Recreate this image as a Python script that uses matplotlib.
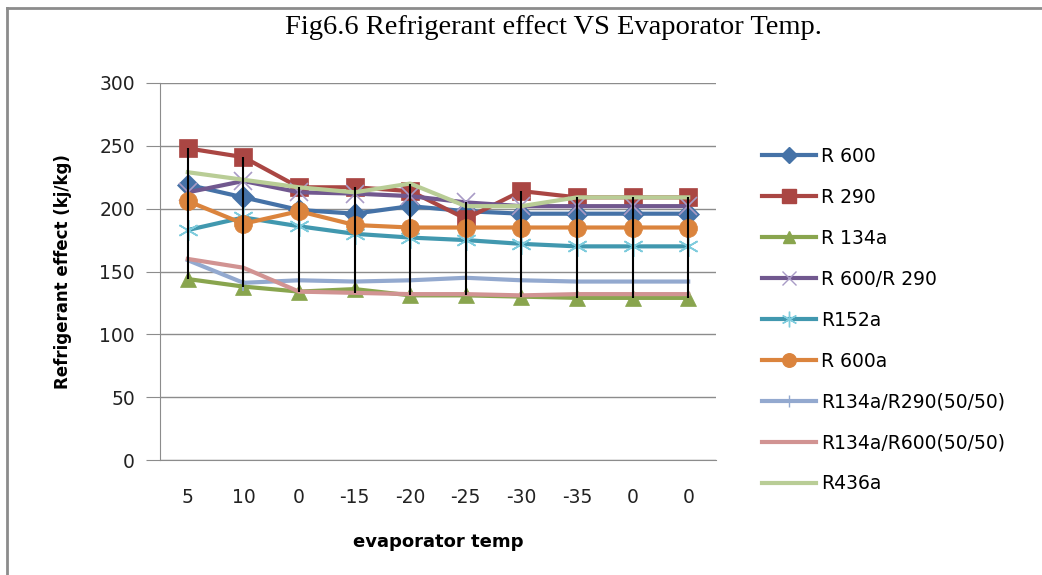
import numpy as np
import matplotlib.pyplot as plt
from matplotlib.lines import Line2D

# categories on x axis (as printed)
temps = ["5", "10", "0", "-15", "-20", "-25", "-30", "-35", "0", "0"]

# refrigerant effect values (kj/kg)
r600 = [219, 209, 199, 196, 202, 198, 196, 196, 196, 196]
r290 = [248, 241, 217, 217, 214, 192, 214, 209, 209, 209]
r134a = [144, 138, 134, 136, 131, 131, 130, 129, 129, 129]
r600_r290 = [213, 222, 213, 212, 210, 205, 202, 202, 202, 202]
r152a = [183, 193, 186, 180, 177, 175, 172, 170, 170, 170]
r600a = [206, 188, 198, 187, 185, 185, 185, 185, 185, 185]
r134a_r290 = [159, 141, 143, 142, 143, 145, 143, 142, 142, 142]
r134a_r600 = [160, 153, 134, 133, 132, 132, 131, 132, 132, 132]
r436a = [229, 223, 217, 213, 220, 202, 202, 209, 209, 209]

series = [
    ("R 600", r600, "#4572A7", "D", "#4572A7", 11),
    ("R 290", r290, "#AA4643", "s", "#AA4643", 13),
    ("R 134a", r134a, "#89A54E", "^", "#89A54E", 12),
    ("R 600/R 290", r600_r290, "#71588F", "x", "#A99BC6", 13),
    ("R152a", r152a, "#4198AF", (6, 2, 0), "#7FCCDD", 15),
    ("R 600a", r600a, "#DB843D", "o", "#DB843D", 13),
    ("R134a/R290(50/50)", r134a_r290, "#93A9CF", "|", "#93A9CF", 12),
    ("R134a/R600(50/50)", r134a_r600, "#D19392", "None", "#D19392", 0),
    ("R436a", r436a, "#B9CD96", "None", "#B9CD96", 0),
]

sans = "DejaVu Sans"

fig = plt.figure(figsize=(10.42, 5.75), dpi=100)
ax = fig.add_axes([160 / 1042, 1 - 460 / 575, 556 / 1042, 377 / 575])

x = np.arange(len(temps))
handles = []
for name, vals, col, mk, mcol, ms in series:
    thin = mk in ("x", (6, 2, 0), "|")
    ax.plot(x, vals, color=col, lw=3, marker=mk, ms=ms,
            mfc=mcol, mec=mcol, mew=1.2 if thin else 0.5, zorder=3)
    handles.append(Line2D([], [], color=col, lw=3, marker=mk, ms=ms * 0.75,
                          mfc=mcol, mec=mcol, mew=1.0))

# high-low lines
allv = np.array([s[1] for s in series])
ax.vlines(x, allv.min(axis=0), allv.max(axis=0), color="black", lw=1.5, zorder=5)

ax.set_xlim(-0.5, len(temps) - 0.5)
ax.set_ylim(0, 300)
ax.set_yticks(range(0, 301, 50))
ax.set_xticks(x)
ax.set_xticklabels(temps)
ax.yaxis.grid(True, color="#8c8c8c", lw=1)
ax.set_axisbelow(True)
for s in ["top", "right"]:
    ax.spines[s].set_visible(False)
ax.spines["left"].set_color("#8c8c8c")
ax.spines["bottom"].set_color("#8c8c8c")
ax.tick_params(axis="y", length=10, color="#8c8c8c", labelsize=13.5, pad=8)
ax.tick_params(axis="x", length=0, labelsize=13.5, pad=20)
for t in ax.get_xticklabels() + ax.get_yticklabels():
    t.set_fontfamily(sans)
    t.set_color("#222222")

ax.set_ylabel("Refrigerant effect (kj/kg)", fontfamily=sans, fontsize=12,
              fontweight="bold", labelpad=20)
ax.set_xlabel("evaporator temp", fontfamily=sans, fontsize=13,
              fontweight="bold", labelpad=19)

fig.text(0.531, 0.952, "Fig6.6 Refrigerant effect VS Evaporator Temp.",
         ha="center", va="center", fontsize=20.5, fontfamily="Liberation Serif")

fig.legend(handles, [s[0] for s in series], loc="upper left",
           bbox_to_anchor=(745 / 1042, 1 - 130 / 575), frameon=False,
           handlelength=2.9, labelspacing=1.17, handletextpad=0.25,
           prop={"family": sans, "size": 13.5})

# outer chart border (only top and left visible)
fig.add_artist(Line2D([7 / 1042, 7 / 1042], [0, 1 - 8 / 575], color="#8c8c8c", lw=2))
fig.add_artist(Line2D([7 / 1042, 1], [1 - 8 / 575, 1 - 8 / 575], color="#8c8c8c", lw=2))

fig.savefig("out.png", dpi=100)
